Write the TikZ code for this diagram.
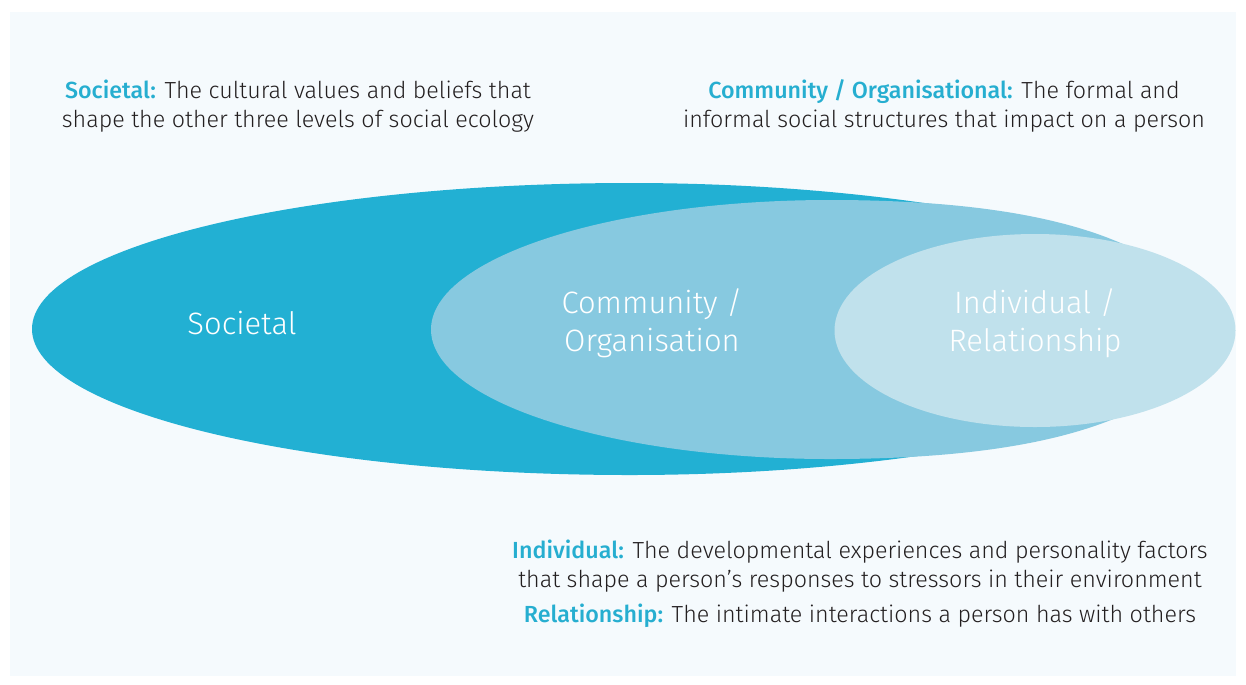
\documentclass[tikz,border=0pt]{standalone}
\usepackage{fontspec}
\setmainfont{Fira Sans}[UprightFont={* Light}, BoldFont={* Medium}]
\definecolor{paper}{RGB}{245,250,253}
\definecolor{societal}{RGB}{34,176,211}
\definecolor{community}{RGB}{135,201,224}
\definecolor{individual}{RGB}{192,225,236}
\definecolor{keyblue}{RGB}{38,174,208}
\definecolor{ink}{RGB}{35,31,32}
\newcommand{\keyword}[1]{\textcolor{keyblue}{\textbf{#1}}}

\begin{document}
\begin{tikzpicture}[x=0.02cm,y=-0.02cm,
    zone label/.style={text=white,align=center,font=\fontsize{17.6}{21.5}\selectfont},
    key text/.style={text=ink,align=center,font=\fontsize{13.25}{16.5}\selectfont}]
  % page
  \fill[white] (0,0) rectangle (1246,684);
  \fill[paper] (10,12) rectangle (1236,676);

  % the three levels
  \fill[societal] (32,329) .. controls (32,248) and (300,183) .. (630,183)
      .. controls (850,183) and (1050,215) .. (1150,260) -- (1150,398)
      .. controls (1050,443) and (850,475) .. (630,475)
      .. controls (300,475) and (32,410) .. cycle;
  \fill[community] (431,329.5) .. controls (431,258) and (610,200) .. (830,200)
      .. controls (1000,200) and (1140,225) .. (1200,300) -- (1200,359)
      .. controls (1140,434) and (1000,459) .. (830,459)
      .. controls (610,459) and (431,401) .. cycle;
  \fill[individual] (1035,330.5) ellipse [x radius=200.5, y radius=96.5];

  \node[zone label] (soc) at (242,323) {Societal};
  \node[zone label] (com) at (652,323) {Community /\\Organisation};
  \node[zone label] (ind) at (1035,323) {Individual /\\Relationship};

  % key
  \node[key text] (k1) at (298,106) {\keyword{Societal:} The cultural values and beliefs that\\shape the other three levels of social ecology};
  \node[key text] (k2) at (944,106) {\keyword{Community / Organisational:} The formal and\\informal social structures that impact on a person};
  \node[key text] (k3) at (860,566) {\keyword{Individual:} The developmental experiences and personality factors\\that shape a person’s responses to stressors in their environment};
  \node[key text] (k4) at (860,616) {\keyword{Relationship:} The intimate interactions a person has with others};
\end{tikzpicture}
\end{document}
